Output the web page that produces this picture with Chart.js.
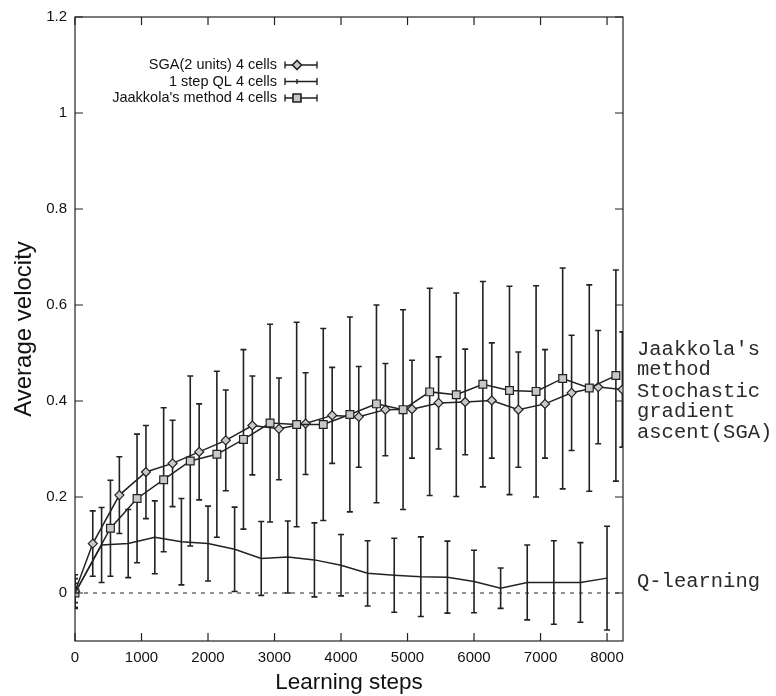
<!DOCTYPE html>
<html lang="en">
<head>
    <meta charset="UTF-8">
    <title>Average velocity vs learning steps</title>
    <script src="https://cdn.jsdelivr.net/npm/chart.js"></script>
    <style>
        body {
            margin: 0;
            background-color: #ffffff;
        }

        .chart-box {
            width: 776px;
            height: 696px;
            position: relative;
        }
    </style>
</head>
<body>
<div class="chart-box">
    <canvas id="velocityChart"></canvas>
</div>

<script>
    // axis ticks
    const xTicks = [0, 1000, 2000, 3000, 4000, 5000, 6000, 7000, 8000];
    const yTicks = [0, 0.2, 0.4, 0.6, 0.8, 1, 1.2];

    // SGA (2 units) 4 cells
    const sgaSteps = [0, 267, 667, 1067, 1467, 1867, 2267, 2667, 3067, 3467, 3867, 4267, 4667, 5067, 5467, 5867, 6267, 6667, 7067, 7467, 7867, 8230];
    const sgaMean = [0.003, 0.103, 0.204, 0.252, 0.27, 0.294, 0.318, 0.349, 0.342, 0.353, 0.37, 0.367, 0.382, 0.383, 0.396, 0.398, 0.401, 0.382, 0.394, 0.417, 0.429, 0.424];
    const sgaErr = [0.035, 0.068, 0.08, 0.097, 0.09, 0.1, 0.105, 0.103, 0.106, 0.106, 0.1, 0.105, 0.096, 0.102, 0.096, 0.11, 0.12, 0.12, 0.113, 0.12, 0.118, 0.12];

    // 1 step QL 4 cells
    const qlSteps = [0, 400, 800, 1200, 1600, 2000, 2400, 2800, 3200, 3600, 4000, 4400, 4800, 5200, 5600, 6000, 6400, 6800, 7200, 7600, 8000];
    const qlMean = [0, 0.1, 0.103, 0.116, 0.107, 0.103, 0.091, 0.072, 0.075, 0.069, 0.058, 0.041, 0.037, 0.034, 0.033, 0.024, 0.01, 0.022, 0.022, 0.022, 0.031];
    const qlErr = [0.02, 0.078, 0.071, 0.076, 0.09, 0.078, 0.088, 0.077, 0.075, 0.077, 0.064, 0.068, 0.077, 0.083, 0.075, 0.065, 0.042, 0.078, 0.087, 0.083, 0.108];

    // Jaakkola's method 4 cells
    const jaakSteps = [0, 533, 933, 1333, 1733, 2133, 2533, 2933, 3333, 3733, 4133, 4533, 4933, 5333, 5733, 6133, 6533, 6933, 7333, 7733, 8133];
    const jaakMean = [0, 0.135, 0.197, 0.236, 0.275, 0.289, 0.32, 0.354, 0.351, 0.351, 0.372, 0.394, 0.382, 0.419, 0.413, 0.435, 0.422, 0.42, 0.447, 0.427, 0.453];
    const jaakErr = [0.03, 0.1, 0.134, 0.15, 0.177, 0.173, 0.187, 0.206, 0.213, 0.2, 0.203, 0.206, 0.208, 0.216, 0.212, 0.214, 0.217, 0.22, 0.23, 0.215, 0.22];

    const zeroLine = [0, 8240];

    const legendLabels = ['SGA(2 units) 4 cells', '1 step QL 4 cells', "Jaakkola's method 4 cells"];
    const sideLabels = [
        {text: "Jaakkola's", y: 350},
        {text: 'method', y: 370},
        {text: 'Stochastic', y: 392},
        {text: 'gradient', y: 412},
        {text: 'ascent(SGA)', y: 433},
        {text: 'Q-learning', y: 582}
    ];

    const ink = '#222222';
    const markFill = '#c8c8c8';

    function toPoints(steps, values) {
        return steps.map((s, i) => ({x: s, y: values[i]}));
    }

    // vertical error bars with caps, drawn under the lines and markers
    const errorBars = {
        id: 'errorBars',
        beforeDatasetsDraw(chart) {
            const ctx = chart.ctx;
            const xs = chart.scales.x, ys = chart.scales.y;
            const area = chart.chartArea;
            ctx.save();
            ctx.beginPath();
            ctx.rect(area.left, area.top, area.right - area.left, area.bottom - area.top);
            ctx.clip();
            ctx.strokeStyle = ink;
            ctx.lineWidth = 1.6;
            chart.data.datasets.forEach(ds => {
                if (!ds.errors) return;
                ds.data.forEach((p, i) => {
                    const px = xs.getPixelForValue(p.x);
                    const top = ys.getPixelForValue(p.y + ds.errors[i]);
                    const bot = ys.getPixelForValue(p.y - ds.errors[i]);
                    ctx.beginPath();
                    ctx.moveTo(px, top);
                    ctx.lineTo(px, bot);
                    ctx.moveTo(px - 3, top);
                    ctx.lineTo(px + 3, top);
                    ctx.moveTo(px - 3, bot);
                    ctx.lineTo(px + 3, bot);
                    ctx.stroke();
                });
            });
            ctx.restore();
        }
    };

    // gnuplot style frame with inward ticks, key and side labels
    const frameAndText = {
        id: 'frameAndText',
        afterDraw(chart) {
            const ctx = chart.ctx;
            const {left, right, top, bottom} = chart.chartArea;
            const xs = chart.scales.x, ys = chart.scales.y;
            ctx.save();
            ctx.strokeStyle = ink;
            ctx.lineWidth = 1.2;
            ctx.strokeRect(left, top, right - left, bottom - top);
            ctx.beginPath();
            xTicks.forEach(v => {
                const px = xs.getPixelForValue(v);
                ctx.moveTo(px, bottom);
                ctx.lineTo(px, bottom - 8);
                ctx.moveTo(px, top);
                ctx.lineTo(px, top + 8);
            });
            yTicks.forEach(v => {
                const py = ys.getPixelForValue(v);
                ctx.moveTo(left, py);
                ctx.lineTo(left + 8, py);
                ctx.moveTo(right, py);
                ctx.lineTo(right - 8, py);
            });
            ctx.stroke();

            // key
            ctx.fillStyle = '#111111';
            ctx.font = '14.5px "Liberation Sans", Arial, sans-serif';
            ctx.textAlign = 'right';
            ctx.textBaseline = 'middle';
            const rows = [65, 81.5, 98];
            const styles = ['rectRot', null, 'rect'];
            const radii = [4.5, 0, 5.5];
            legendLabels.forEach((label, i) => {
                const y = rows[i];
                ctx.fillText(label, 277, y);
                ctx.beginPath();
                ctx.lineWidth = 1.4;
                ctx.moveTo(285, y);
                ctx.lineTo(317, y);
                ctx.moveTo(285, y - 3.5);
                ctx.lineTo(285, y + 3.5);
                ctx.moveTo(317, y - 3.5);
                ctx.lineTo(317, y + 3.5);
                if (!styles[i]) {
                    ctx.moveTo(297, y - 2.5);
                    ctx.lineTo(297, y + 2.5);
                }
                ctx.stroke();
                if (styles[i]) {
                    ctx.fillStyle = markFill;
                    Chart.helpers.drawPoint(ctx, {pointStyle: styles[i], radius: radii[i], borderWidth: 1.2, rotation: 0}, 297, y);
                    ctx.fill();
                    ctx.stroke();
                    ctx.fillStyle = '#111111';
                }
            });

            // curve names on the right
            ctx.textAlign = 'left';
            ctx.fillStyle = '#2a2a2a';
            ctx.font = '20.5px "Liberation Mono", "Courier New", monospace';
            sideLabels.forEach(l => ctx.fillText(l.text, 637, l.y));
            ctx.restore();
        }
    };

    new Chart(document.getElementById('velocityChart').getContext('2d'), {
        type: 'line',
        data: {
            datasets: [
                {
                    data: toPoints(zeroLine, [0, 0]),
                    borderColor: ink,
                    borderWidth: 1,
                    borderDash: [4, 5],
                    pointRadius: 0
                },
                {
                    data: toPoints(qlSteps, qlMean),
                    errors: qlErr,
                    borderColor: ink,
                    borderWidth: 1.5,
                    pointRadius: 0
                },
                {
                    data: toPoints(jaakSteps, jaakMean),
                    errors: jaakErr,
                    borderColor: ink,
                    borderWidth: 1.5,
                    pointStyle: 'rect',
                    pointRadius: 5.5,
                    pointBorderWidth: 1.2,
                    pointBackgroundColor: markFill,
                    pointBorderColor: ink
                },
                {
                    data: toPoints(sgaSteps, sgaMean),
                    errors: sgaErr,
                    borderColor: ink,
                    borderWidth: 1.5,
                    pointStyle: 'rectRot',
                    pointRadius: 4.5,
                    pointBorderWidth: 1.2,
                    pointBackgroundColor: markFill,
                    pointBorderColor: ink
                }
            ]
        },
        options: {
            responsive: true,
            maintainAspectRatio: false,
            animation: false,
            layout: {
                padding: {left: 0, top: 16, right: 153, bottom: 0}
            },
            plugins: {
                legend: {display: false},
                tooltip: {enabled: false}
            },
            elements: {
                line: {tension: 0}
            },
            scales: {
                x: {
                    type: 'linear',
                    min: 0,
                    max: 8240,
                    grid: {display: false, drawTicks: false},
                    border: {display: false},
                    afterBuildTicks: s => { s.ticks = xTicks.map(v => ({value: v})); },
                    afterFit: s => { s.height = 55; },
                    ticks: {
                        padding: 8,
                        color: '#111111',
                        font: {family: '"Liberation Sans", Arial, sans-serif', size: 15},
                        callback: v => String(v)
                    },
                    title: {
                        display: true,
                        text: 'Learning steps',
                        color: '#111111',
                        font: {family: '"Liberation Sans", Arial, sans-serif', size: 22.5},
                        padding: {top: 0, bottom: 0}
                    }
                },
                y: {
                    type: 'linear',
                    min: -0.1,
                    max: 1.2,
                    grid: {display: false, drawTicks: false},
                    border: {display: false},
                    afterBuildTicks: s => { s.ticks = yTicks.map(v => ({value: v})); },
                    afterFit: s => { s.width = 75; },
                    ticks: {
                        padding: 8,
                        color: '#111111',
                        font: {family: '"Liberation Sans", Arial, sans-serif', size: 15},
                        callback: v => String(v)
                    },
                    title: {
                        display: true,
                        text: 'Average velocity',
                        color: '#111111',
                        font: {family: '"Liberation Sans", Arial, sans-serif', size: 24},
                        padding: {top: 10, bottom: 0}
                    }
                }
            }
        },
        plugins: [errorBars, frameAndText]
    });
</script>
</body>
</html>
